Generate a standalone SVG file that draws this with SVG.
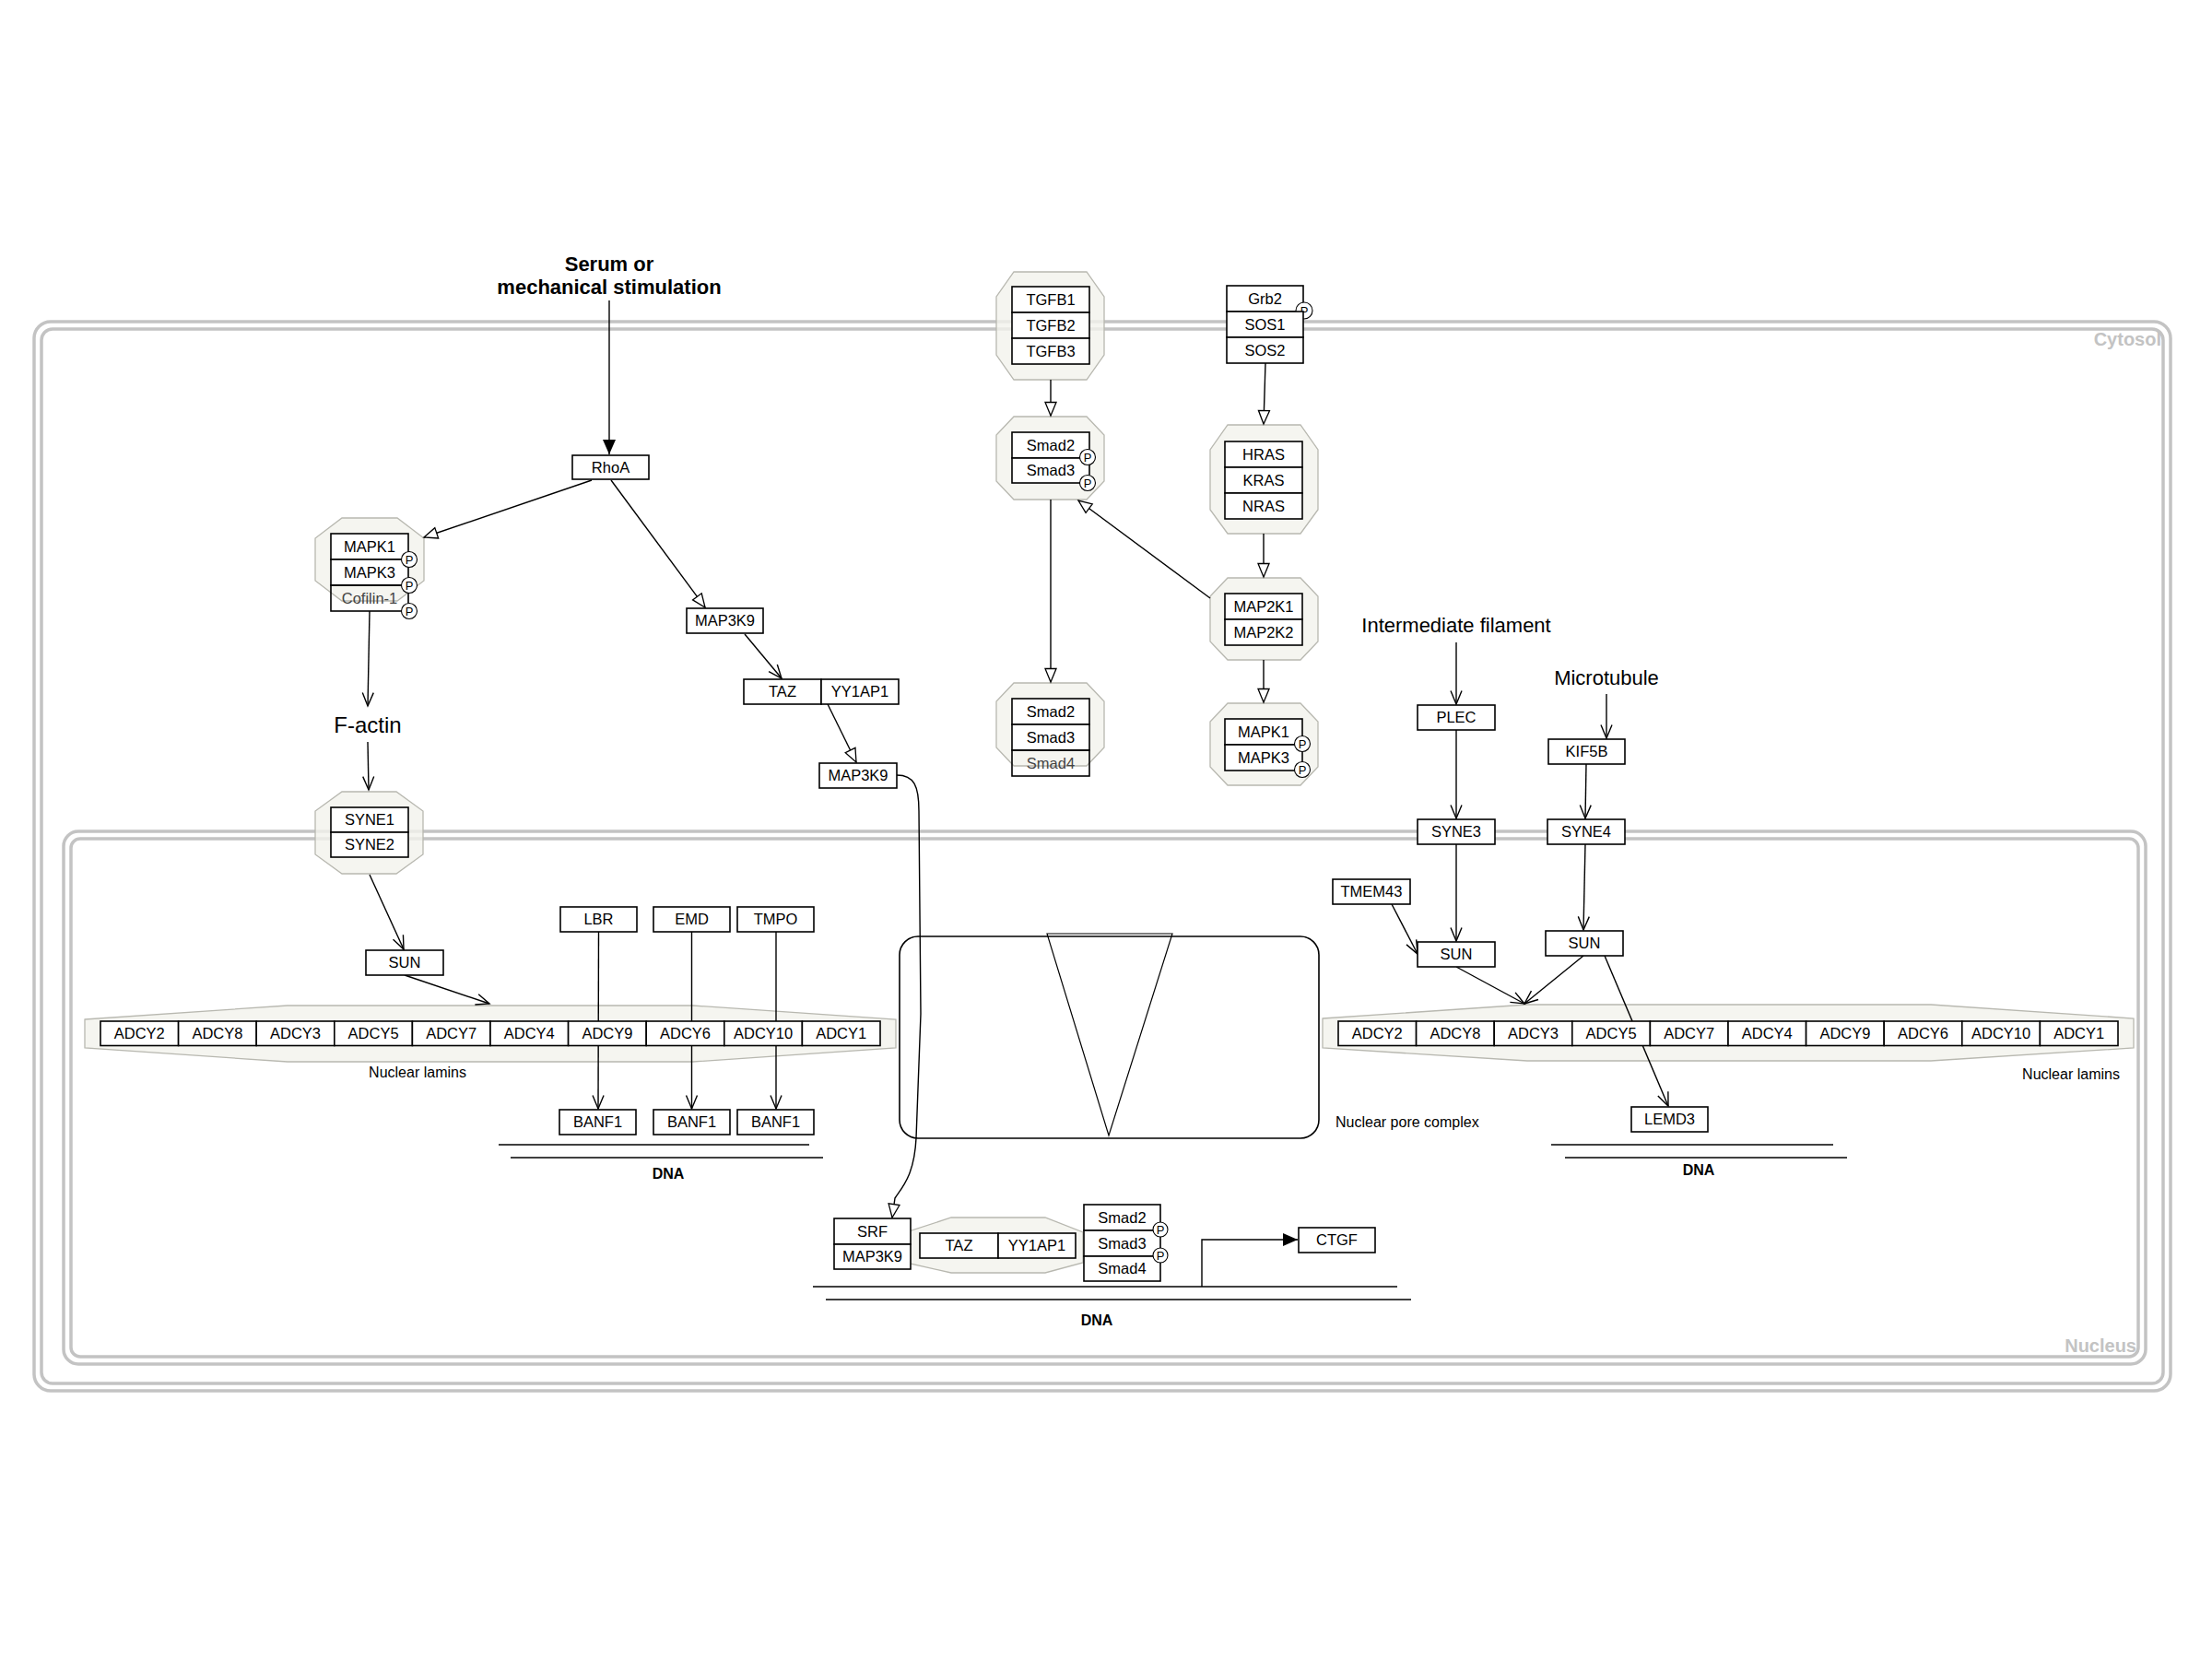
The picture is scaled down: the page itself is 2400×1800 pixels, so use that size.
<svg xmlns="http://www.w3.org/2000/svg" width="2400" height="1800" viewBox="0 0 2400 1800">
<style>
.bg{fill:#fff}
.mem{fill:none;stroke:#c3c3c3;stroke-width:3.5}
.memlbl{font-family:"Liberation Sans",Arial,sans-serif;font-size:20px;font-weight:bold;fill:#c3c3c3;text-anchor:end}
.box{fill:#fff;stroke:#000;stroke-width:1.6}
.boxn{fill:none;stroke:#000;stroke-width:1.6}
.cx{fill:#f3f3ec;fill-opacity:.8;stroke:#b8b8b0;stroke-width:1.3}
.t{font-family:"Liberation Sans",Arial,sans-serif;font-size:16.5px;text-anchor:middle;fill:#000}
.tg{font-family:"Liberation Sans",Arial,sans-serif;font-size:16.5px;text-anchor:middle;fill:#444}
.big{font-family:"Liberation Sans",Arial,sans-serif;font-size:22px;text-anchor:middle;fill:#000}
.bold{font-family:"Liberation Sans",Arial,sans-serif;font-size:22px;font-weight:bold;text-anchor:middle;fill:#000}
.dna{font-family:"Liberation Sans",Arial,sans-serif;font-size:16px;font-weight:bold;text-anchor:middle;fill:#000}
.lbl{font-family:"Liberation Sans",Arial,sans-serif;font-size:16px;fill:#000}
.pc{fill:#fff;stroke:#000;stroke-width:1.1}
.pt{font-family:"Liberation Sans",Arial,sans-serif;font-size:13px;text-anchor:middle;fill:#000}
.ln{fill:none;stroke:#000;stroke-width:1.4}
.dl{fill:none;stroke:#000;stroke-width:1.6}
.pore{fill:none;stroke:#000;stroke-width:1.6}
</style>
<defs>
<marker id="filled" viewBox="0 0 16 14" refX="16" refY="7" markerWidth="16" markerHeight="14" markerUnits="userSpaceOnUse" orient="auto" overflow="visible">
<path d="M0,0 L16,7 L0,14 z" fill="#000"/>
</marker>
<marker id="open" viewBox="0 0 16 14" refX="15.5" refY="7" markerWidth="16" markerHeight="14" markerUnits="userSpaceOnUse" orient="auto" overflow="visible">
<path d="M1,1 L15.5,7 L1,13 z" fill="#fff" stroke="#000" stroke-width="1.3"/>
</marker>
<marker id="vee" viewBox="0 0 16 14" refX="15.5" refY="7" markerWidth="16" markerHeight="14" markerUnits="userSpaceOnUse" orient="auto" overflow="visible">
<path d="M1,1 L15.5,7 L1,13" fill="none" stroke="#000" stroke-width="1.4"/>
</marker>
</defs>
<rect class="bg" x="0" y="0" width="2400" height="1800"/>

<g id="compartments">
<rect class="mem" x="37" y="349" width="2318" height="1160" rx="18"/>
<rect class="mem" x="45" y="357" width="2302" height="1144" rx="12"/>
<text class="memlbl" x="2345" y="375">Cytosol</text>
<rect class="mem" x="69" y="902" width="2259" height="578" rx="16"/>
<rect class="mem" x="77" y="910" width="2243" height="562" rx="10"/>
<text class="memlbl" x="2318" y="1467">Nucleus</text>
</g>

<g id="complex-shapes">
<polygon id="oct-mapk-left" class="cx" points="371,562 431,562 460,584 460,630 431,652 371,652 342,630 342,584"/>
<polygon id="oct-syne" class="cx" points="371,859 430,859 459,880 459,927 430,948 371,948 342,927 342,880"/>
<polygon id="oct-tgfb" class="cx" points="1100,295 1179,295 1198,322 1198,385 1179,412 1100,412 1081,385 1081,322"/>
<polygon id="oct-smad23" class="cx" points="1100,452 1179,452 1198,472 1198,522 1179,542 1100,542 1081,522 1081,472"/>
<polygon id="oct-smad234" class="cx" points="1100,741 1179,741 1198,761 1198,811 1179,831 1100,831 1081,811 1081,761"/>
<polygon id="oct-ras" class="cx" points="1332,461 1411,461 1430,488 1430,553 1411,579 1332,579 1313,553 1313,488"/>
<polygon id="oct-map2k" class="cx" points="1332,627 1411,627 1430,647 1430,696 1411,716 1332,716 1313,696 1313,647"/>
<polygon id="oct-mapk-right" class="cx" points="1332,763 1411,763 1430,783 1430,832 1411,852 1332,852 1313,832 1313,783"/>
<polygon id="oct-taz" class="cx" points="1032,1321 1134,1321 1175,1337 1175,1370 1134,1381 1032,1381 983,1370 983,1337"/>
<polygon id="lamins-left" class="cx" points="92,1106 312,1091 752,1091 972,1106 972,1137 752,1152 312,1152 92,1137"/>
<polygon id="lamins-right" class="cx" points="1435,1105 1657,1090 2095,1090 2315,1105 2315,1137 2095,1151 1657,1151 1435,1137"/>
</g>

<g id="labels">
<text class="bold" x="661" y="294">Serum or</text>
<text class="bold" x="661" y="319">mechanical stimulation</text>
<text class="big" x="399" y="795" style="font-size:24px">F-actin</text>
<text class="big" x="1580" y="686">Intermediate filament</text>
<text class="big" x="1743" y="743">Microtubule</text>
<text class="t" x="453" y="1169" style="font-size:16px">Nuclear lamins</text>
<text class="t" x="2247" y="1171" style="font-size:16px">Nuclear lamins</text>
<text class="lbl" x="1449" y="1223">Nuclear pore complex</text>
<text class="dna" x="725" y="1279">DNA</text>
<text class="dna" x="1843" y="1275">DNA</text>
<text class="dna" x="1190" y="1438">DNA</text>
</g>

<g id="dna-lines">
<line class="dl" x1="541" y1="1242" x2="878" y2="1242"/>
<line class="dl" x1="554" y1="1256" x2="893" y2="1256"/>
<line class="dl" x1="1683" y1="1242" x2="1989" y2="1242"/>
<line class="dl" x1="1698" y1="1256" x2="2004" y2="1256"/>
<line class="dl" x1="882" y1="1396" x2="1516" y2="1396"/>
<line class="dl" x1="896" y1="1410" x2="1531" y2="1410"/>
</g>

<g id="nuclear-pore-complex">
<rect class="pore" x="976" y="1016" width="455" height="219" rx="20"/>
<polygon class="pore" points="1136,1013 1272,1013 1203,1232" style="stroke-width:1.2"/>
</g>

<g id="connectors">
<path class="ln" d="M661,326 L661,493" marker-end="url(#filled)"/>
<path class="ln" d="M642,521 L460,583" marker-end="url(#open)"/>
<path class="ln" d="M663,521 L765,659" marker-end="url(#open)"/>
<path class="ln" d="M808,688 L848,736" marker-end="url(#vee)"/>
<path class="ln" d="M898,764 L929,827" marker-end="url(#open)"/>
<path class="ln" d="M973,841 C992,841 997,853 997,880 L999,1100 L994,1235 C992,1275 979,1288 971,1300 L968,1321" marker-end="url(#open)"/>
<path class="ln" d="M401,663 L399,766" marker-end="url(#vee)"/>
<path class="ln" d="M399,805 L400,857" marker-end="url(#vee)"/>
<path class="ln" d="M401,949 L438,1030" marker-end="url(#vee)"/>
<path class="ln" d="M439,1058 L531,1089" marker-end="url(#vee)"/>
<path class="ln" d="M649.5,1011 L649,1203" marker-end="url(#vee)"/>
<path class="ln" d="M750.5,1011 L750.5,1203" marker-end="url(#vee)"/>
<path class="ln" d="M842,1011 L842,1203" marker-end="url(#vee)"/>
<path class="ln" d="M1140,412 L1140,451" marker-end="url(#open)"/>
<path class="ln" d="M1140,542 L1140,740" marker-end="url(#open)"/>
<path class="ln" d="M1373,394 L1371,460" marker-end="url(#open)"/>
<path class="ln" d="M1371,579 L1371,626" marker-end="url(#open)"/>
<path class="ln" d="M1371,716 L1371,762" marker-end="url(#open)"/>
<path class="ln" d="M1313,649 L1170,543" marker-end="url(#open)"/>
<path class="ln" d="M1580,697 L1580,764" marker-end="url(#vee)"/>
<path class="ln" d="M1743,753 L1743,801" marker-end="url(#vee)"/>
<path class="ln" d="M1580,792 L1580,888" marker-end="url(#vee)"/>
<path class="ln" d="M1721,829 L1720,888" marker-end="url(#vee)"/>
<path class="ln" d="M1510,981 L1538,1035" marker-end="url(#vee)"/>
<path class="ln" d="M1580,916 L1580,1021" marker-end="url(#vee)"/>
<path class="ln" d="M1720,916 L1718,1009" marker-end="url(#vee)"/>
<path class="ln" d="M1580,1049 L1654,1089" marker-end="url(#vee)"/>
<path class="ln" d="M1718,1037 L1654,1089" marker-end="url(#vee)"/>
<path class="ln" d="M1741,1037 L1810,1200" marker-end="url(#vee)"/>
<path class="ln" d="M1304,1396 L1304,1345 L1408,1345" marker-end="url(#filled)"/>
</g>

<g id="RhoA"><rect class="box" x="621" y="494" width="83" height="26"/><text class="t" x="662.5" y="512.9">RhoA</text></g>

<g id="MAPK-left">
<rect class="box" x="359" y="579" width="84" height="28"/><text class="t" x="401" y="598.9">MAPK1</text>
<rect class="box" x="359" y="607" width="84" height="28"/><text class="t" x="401" y="626.9">MAPK3</text>
<rect class="boxn" x="359" y="635" width="84" height="28"/><text class="tg" x="401" y="654.9">Cofilin-1</text>
<circle class="pc" cx="444" cy="607" r="8.5"/><text class="pt" x="444" y="611.6">P</text>
<circle class="pc" cx="444" cy="635" r="8.5"/><text class="pt" x="444" y="639.6">P</text>
<circle class="pc" cx="444" cy="663" r="8.5"/><text class="pt" x="444" y="667.6">P</text>
</g>

<g id="SYNE12">
<rect class="box" x="359" y="876" width="84" height="27"/><text class="t" x="401" y="895.4">SYNE1</text>
<rect class="box" x="359" y="903" width="84" height="27"/><text class="t" x="401" y="922.4">SYNE2</text>
</g>

<g id="SUN-left"><rect class="box" x="397" y="1031" width="84" height="27"/><text class="t" x="439" y="1050.4">SUN</text></g>
<g id="MAP3K9-a"><rect class="box" x="745" y="660" width="83" height="27"/><text class="t" x="786.5" y="679.4">MAP3K9</text></g>
<g id="TAZ-YY1AP1-a">
<rect class="box" x="807" y="737" width="84" height="27"/><text class="t" x="849" y="756.4">TAZ</text>
<rect class="box" x="891" y="737" width="84" height="27"/><text class="t" x="933" y="756.4">YY1AP1</text>
</g>
<g id="MAP3K9-b"><rect class="box" x="889" y="828" width="84" height="27"/><text class="t" x="931" y="847.4">MAP3K9</text></g>

<g id="LBR"><rect class="box" x="608" y="984" width="83" height="27"/><text class="t" x="649.5" y="1003.4">LBR</text></g>
<g id="EMD"><rect class="box" x="709" y="984" width="83" height="27"/><text class="t" x="750.5" y="1003.4">EMD</text></g>
<g id="TMPO"><rect class="box" x="800" y="984" width="83" height="27"/><text class="t" x="841.5" y="1003.4">TMPO</text></g>

<g id="ADCY-left">
<rect class="box" x="109" y="1108" width="84.6" height="26.5"/><text class="t" x="151.3" y="1127.2">ADCY2</text>
<rect class="box" x="193.6" y="1108" width="84.6" height="26.5"/><text class="t" x="235.9" y="1127.2">ADCY8</text>
<rect class="box" x="278.2" y="1108" width="84.6" height="26.5"/><text class="t" x="320.5" y="1127.2">ADCY3</text>
<rect class="box" x="362.8" y="1108" width="84.6" height="26.5"/><text class="t" x="405.1" y="1127.2">ADCY5</text>
<rect class="box" x="447.4" y="1108" width="84.6" height="26.5"/><text class="t" x="489.7" y="1127.2">ADCY7</text>
<rect class="box" x="532" y="1108" width="84.6" height="26.5"/><text class="t" x="574.3" y="1127.2">ADCY4</text>
<rect class="box" x="616.6" y="1108" width="84.6" height="26.5"/><text class="t" x="658.9" y="1127.2">ADCY9</text>
<rect class="box" x="701.2" y="1108" width="84.6" height="26.5"/><text class="t" x="743.5" y="1127.2">ADCY6</text>
<rect class="box" x="785.8" y="1108" width="84.6" height="26.5"/><text class="t" x="828.1" y="1127.2">ADCY10</text>
<rect class="box" x="870.4" y="1108" width="84.6" height="26.5"/><text class="t" x="912.7" y="1127.2">ADCY1</text>
</g>

<g id="BANF1-a"><rect class="box" x="607" y="1204" width="83" height="27"/><text class="t" x="648.5" y="1223.4">BANF1</text></g>
<g id="BANF1-b"><rect class="box" x="709" y="1204" width="83" height="27"/><text class="t" x="750.5" y="1223.4">BANF1</text></g>
<g id="BANF1-c"><rect class="box" x="800" y="1204" width="83" height="27"/><text class="t" x="841.5" y="1223.4">BANF1</text></g>

<g id="TGFB">
<rect class="box" x="1098" y="311" width="84" height="28"/><text class="t" x="1140" y="330.9">TGFB1</text>
<rect class="box" x="1098" y="339" width="84" height="28"/><text class="t" x="1140" y="358.9">TGFB2</text>
<rect class="box" x="1098" y="367" width="84" height="28"/><text class="t" x="1140" y="386.9">TGFB3</text>
</g>

<g id="Grb2-SOS">
<rect class="box" x="1331" y="310" width="83" height="28"/><text class="t" x="1372.5" y="329.9">Grb2</text>
<circle class="pc" cx="1415" cy="337" r="9"/><text class="pt" x="1415" y="341.6">P</text>
<rect class="box" x="1331" y="338" width="83" height="28"/><text class="t" x="1372.5" y="357.9">SOS1</text>
<rect class="box" x="1331" y="366" width="83" height="28"/><text class="t" x="1372.5" y="385.9">SOS2</text>
</g>

<g id="Smad23">
<rect class="box" x="1098" y="469" width="84" height="28"/><text class="t" x="1140" y="488.9">Smad2</text>
<rect class="box" x="1098" y="497" width="84" height="27"/><text class="t" x="1140" y="516.4">Smad3</text>
<circle class="pc" cx="1180" cy="496" r="8.5"/><text class="pt" x="1180" y="500.6">P</text>
<circle class="pc" cx="1180" cy="524" r="8.5"/><text class="pt" x="1180" y="528.6">P</text>
</g>

<g id="Smad234">
<rect class="box" x="1098" y="758" width="84" height="28"/><text class="t" x="1140" y="777.9">Smad2</text>
<rect class="box" x="1098" y="786" width="84" height="28"/><text class="t" x="1140" y="805.9">Smad3</text>
<rect class="boxn" x="1098" y="814" width="84" height="28"/><text class="tg" x="1140" y="833.9">Smad4</text>
</g>

<g id="RAS">
<rect class="box" x="1329" y="479" width="84" height="28"/><text class="t" x="1371" y="498.9">HRAS</text>
<rect class="box" x="1329" y="507" width="84" height="28"/><text class="t" x="1371" y="526.9">KRAS</text>
<rect class="box" x="1329" y="535" width="84" height="28"/><text class="t" x="1371" y="554.9">NRAS</text>
</g>

<g id="MAP2K">
<rect class="box" x="1329" y="644" width="84" height="28"/><text class="t" x="1371" y="663.9">MAP2K1</text>
<rect class="box" x="1329" y="672" width="84" height="28"/><text class="t" x="1371" y="691.9">MAP2K2</text>
</g>

<g id="MAPK-right">
<rect class="box" x="1329" y="780" width="84" height="28"/><text class="t" x="1371" y="799.9">MAPK1</text>
<rect class="box" x="1329" y="808" width="84" height="28"/><text class="t" x="1371" y="827.9">MAPK3</text>
<circle class="pc" cx="1413" cy="807" r="8.5"/><text class="pt" x="1413" y="811.6">P</text>
<circle class="pc" cx="1413" cy="835" r="8.5"/><text class="pt" x="1413" y="839.6">P</text>
</g>

<g id="SRF-MAP3K9">
<rect class="box" x="905" y="1322" width="83" height="28"/><text class="t" x="946.5" y="1341.9">SRF</text>
<rect class="box" x="905" y="1350" width="83" height="27"/><text class="t" x="946.5" y="1369.4">MAP3K9</text>
</g>

<g id="TAZ-YY1AP1-b">
<rect class="box" x="998" y="1338" width="85" height="27"/><text class="t" x="1040.5" y="1357.4">TAZ</text>
<rect class="box" x="1083" y="1338" width="84" height="27"/><text class="t" x="1125" y="1357.4">YY1AP1</text>
</g>

<g id="Smad234-nuclear">
<rect class="box" x="1176" y="1307" width="83" height="28"/><text class="t" x="1217.5" y="1326.9">Smad2</text>
<rect class="box" x="1176" y="1335" width="83" height="28"/><text class="t" x="1217.5" y="1354.9">Smad3</text>
<rect class="box" x="1176" y="1363" width="83" height="27"/><text class="t" x="1217.5" y="1382.4">Smad4</text>
<circle class="pc" cx="1259" cy="1334" r="8"/><text class="pt" x="1259" y="1338.6">P</text>
<circle class="pc" cx="1259" cy="1362" r="8"/><text class="pt" x="1259" y="1366.6">P</text>
</g>

<g id="CTGF"><rect class="box" x="1409" y="1332" width="83" height="27"/><text class="t" x="1450.5" y="1351.4">CTGF</text></g>

<g id="PLEC"><rect class="box" x="1538" y="765" width="84" height="27"/><text class="t" x="1580" y="784.4">PLEC</text></g>
<g id="KIF5B"><rect class="box" x="1680" y="802" width="83" height="27"/><text class="t" x="1721.5" y="821.4">KIF5B</text></g>
<g id="SYNE3"><rect class="box" x="1538" y="889" width="84" height="27"/><text class="t" x="1580" y="908.4">SYNE3</text></g>
<g id="SYNE4"><rect class="box" x="1679" y="889" width="84" height="27"/><text class="t" x="1721" y="908.4">SYNE4</text></g>
<g id="TMEM43"><rect class="box" x="1446" y="954" width="84" height="27"/><text class="t" x="1488" y="973.4">TMEM43</text></g>
<g id="SUN-right-a"><rect class="box" x="1538" y="1022" width="84" height="27"/><text class="t" x="1580" y="1041.4">SUN</text></g>
<g id="SUN-right-b"><rect class="box" x="1677" y="1010" width="84" height="27"/><text class="t" x="1719" y="1029.4">SUN</text></g>
<g id="LEMD3"><rect class="box" x="1770" y="1201" width="83" height="27"/><text class="t" x="1811.5" y="1220.4">LEMD3</text></g>

<g id="ADCY-right">
<rect class="box" x="1452" y="1108" width="84.6" height="26.5"/><text class="t" x="1494.3" y="1127.2">ADCY2</text>
<rect class="box" x="1536.6" y="1108" width="84.6" height="26.5"/><text class="t" x="1578.9" y="1127.2">ADCY8</text>
<rect class="box" x="1621.2" y="1108" width="84.6" height="26.5"/><text class="t" x="1663.5" y="1127.2">ADCY3</text>
<rect class="box" x="1705.8" y="1108" width="84.6" height="26.5"/><text class="t" x="1748.1" y="1127.2">ADCY5</text>
<rect class="box" x="1790.4" y="1108" width="84.6" height="26.5"/><text class="t" x="1832.7" y="1127.2">ADCY7</text>
<rect class="box" x="1875" y="1108" width="84.6" height="26.5"/><text class="t" x="1917.3" y="1127.2">ADCY4</text>
<rect class="box" x="1959.6" y="1108" width="84.6" height="26.5"/><text class="t" x="2001.9" y="1127.2">ADCY9</text>
<rect class="box" x="2044.2" y="1108" width="84.6" height="26.5"/><text class="t" x="2086.5" y="1127.2">ADCY6</text>
<rect class="box" x="2128.8" y="1108" width="84.6" height="26.5"/><text class="t" x="2171.1" y="1127.2">ADCY10</text>
<rect class="box" x="2213.4" y="1108" width="84.6" height="26.5"/><text class="t" x="2255.7" y="1127.2">ADCY1</text>
</g>
</svg>
